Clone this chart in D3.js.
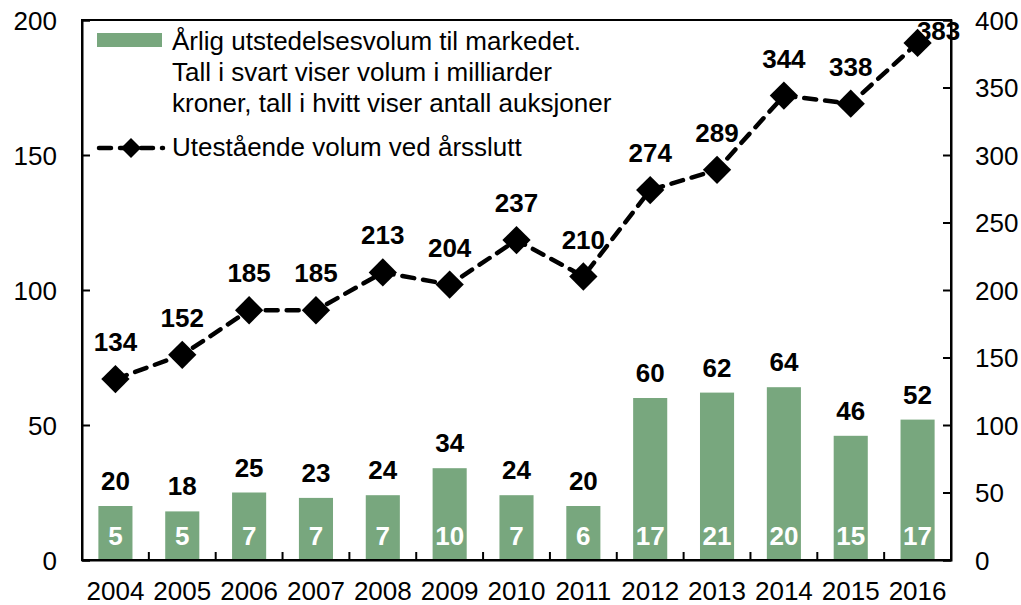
<!DOCTYPE html>
<html><head><meta charset="utf-8">
<script src="https://cdn.jsdelivr.net/npm/d3@7"></script>
<style>body{margin:0;background:#fff}</style>
</head><body>
<svg id="c" width="1021" height="605"></svg>
<script>
const years = ["2004","2005","2006","2007","2008","2009","2010","2011","2012","2013","2014","2015","2016"];
const issued = [20,18,25,23,24,34,24,20,60,62,64,46,52];
const auctions = [5,5,7,7,7,10,7,6,17,21,20,15,17];
const outstanding = [134,152,185,185,213,204,237,210,274,289,344,338,383];
const leftTicks = [0,50,100,150,200];
const rightTicks = [0,50,100,150,200,250,300,350,400];
const legendBar = ["Årlig utstedelsesvolum til markedet.","Tall i svart viser volum i milliarder","kroner, tall i hvitt viser antall auksjoner"];
const legendLine = "Utestående volum ved årsslutt";

const svg = d3.select("#c");
const L = 82, R = 951, T = 20, B = 560;
const font = "Liberation Sans, Arial, sans-serif";
const FS = 26;
const green = "#78a77e";

const x = d3.scaleBand().domain(years).range([L, R]).paddingInner(0.49).paddingOuter(0.245);
const yL = d3.scaleLinear().domain([0,200]).range([B, T]);
const yR = d3.scaleLinear().domain([0,400]).range([B, T]);
const cx = i => x(years[i]) + x.bandwidth()/2;

svg.append("g").selectAll("rect").data(years).join("rect")
  .attr("x", d => x(d)).attr("width", x.bandwidth())
  .attr("y", (d,i) => yL(issued[i])).attr("height", (d,i) => B - yL(issued[i]))
  .attr("fill", green);

svg.append("g").selectAll("text").data(years).join("text")
  .attr("x", (d,i) => cx(i)).attr("y", (d,i) => yL(issued[i]) - 16)
  .attr("text-anchor","middle").attr("font-family",font).attr("font-weight","bold").attr("font-size",FS)
  .attr("fill","#000").text((d,i) => issued[i]);
svg.append("g").selectAll("text").data(years).join("text")
  .attr("x", (d,i) => cx(i)).attr("y", B - 15)
  .attr("text-anchor","middle").attr("font-family",font).attr("font-weight","bold").attr("font-size",FS)
  .attr("fill","#fff").text((d,i) => auctions[i]);

svg.append("rect").attr("x",L).attr("y",T).attr("width",R-L).attr("height",B-T)
  .attr("fill","none").attr("stroke","#000").attr("stroke-width",2);

const axL = svg.append("g").attr("transform",`translate(${L},0)`)
  .call(d3.axisRight(yL).tickValues(leftTicks).tickSize(8).tickFormat(d3.format("d")));
axL.selectAll("text").attr("x",-25).attr("text-anchor","end");
const axR = svg.append("g").attr("transform",`translate(${R},0)`)
  .call(d3.axisLeft(yR).tickValues(rightTicks).tickSize(8).tickFormat(d3.format("d")));
axR.selectAll("text").attr("x",24).attr("text-anchor","start");
const axB = svg.append("g").attr("transform",`translate(0,${B})`)
  .call(d3.axisTop(x).tickSize(0));
axB.selectAll("text").attr("y",40).attr("dy",0);
svg.append("g").selectAll("line").data(years.slice(1)).join("line")
  .attr("x1", d => x(d) - x.step()*x.paddingInner()/2).attr("x2", d => x(d) - x.step()*x.paddingInner()/2)
  .attr("y1", B).attr("y2", B-8).attr("stroke","#000").attr("stroke-width",2);
[axL,axR,axB].forEach(a => {
  a.select(".domain").attr("stroke","#000").attr("stroke-width",2);
  a.selectAll(".tick line").attr("stroke","#000").attr("stroke-width",2);
  a.selectAll("text").attr("font-family",font).attr("font-size",FS).attr("fill","#000");
});
axL.selectAll("text").attr("dy","0.36em");
axR.selectAll("text").attr("dy","0.36em");

const line = d3.line().x((d,i) => cx(i)).y(d => yR(d));
svg.append("path").datum(outstanding).attr("d", line)
  .attr("fill","none").attr("stroke","#000").attr("stroke-width",4.5)
  .attr("stroke-dasharray","12,9").attr("stroke-linecap","round");
const diamond = d3.symbol().type(d3.symbolSquare).size(400);
svg.append("g").selectAll("path").data(outstanding).join("path")
  .attr("d", diamond)
  .attr("transform",(d,i) => `translate(${cx(i)},${yR(d)}) rotate(45)`)
  .attr("fill","#000");
const last = outstanding.length - 1;
svg.append("g").selectAll("text").data(outstanding).join("text")
  .attr("x",(d,i) => i === last ? cx(i) + 21 : cx(i))
  .attr("y", (d,i) => i === last ? yR(d) - 3 : yR(d) - 28)
  .attr("text-anchor","middle").attr("font-family",font).attr("font-weight","bold").attr("font-size",FS)
  .attr("fill","#000").text(d => d);

svg.append("rect").attr("x",97).attr("y",33).attr("width",65).attr("height",14).attr("fill",green);
svg.append("g").selectAll("text").data(legendBar).join("text")
  .attr("x",172).attr("y",(d,i) => 50 + i*31)
  .attr("font-family",font).attr("font-size",FS).attr("fill","#000").text(d => d);
svg.append("line").attr("x1",99).attr("x2",163).attr("y1",148).attr("y2",148)
  .attr("stroke","#000").attr("stroke-width",4.5).attr("stroke-dasharray","12,9").attr("stroke-linecap","round");
svg.append("path").attr("d", d3.symbol().type(d3.symbolSquare).size(200)())
  .attr("transform","translate(131,148) rotate(45)").attr("fill","#000");
svg.append("text").attr("x",172).attr("y",156)
  .attr("font-family",font).attr("font-size",FS).attr("fill","#000").text(legendLine);
</script>
</body></html>
